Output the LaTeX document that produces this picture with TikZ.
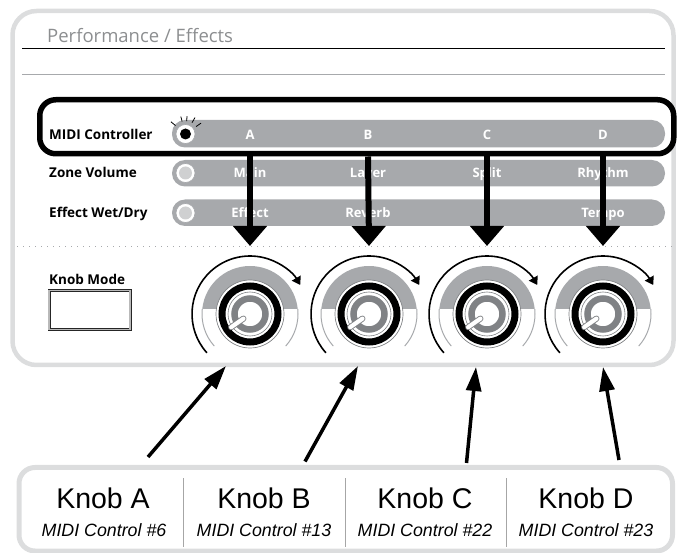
\documentclass[tikz,border=0pt]{standalone}
\usepackage{fontspec}
\setmainfont{Open Sans}
\newfontfamily\knobfont{Liberation Sans}
\usepackage{tikz}
\usetikzlibrary{arrows.meta, positioning}

\definecolor{panelgray}{HTML}{DCDDDE}
\definecolor{bargray}{HTML}{A7A9AC}
\definecolor{ringgray}{HTML}{808285}
\definecolor{titlegray}{HTML}{8C8E90}
\definecolor{dotgray}{HTML}{CFD0D1}

\begin{document}
\begin{tikzpicture}[
    x=1pt, y=-1pt,
    rowlabel/.style={anchor=base west, inner sep=0pt, font=\bfseries\fontsize{13.5}{16}\selectfont},
    barlabel/.style={anchor=base, inner sep=0pt, text=white, font=\bfseries\fontsize{13}{15}\selectfont},
    bar/.style={fill=bargray, rounded corners=13pt},
    radio/.style={circle, draw=bargray, fill=white, line width=0.6pt, minimum size=19pt, inner sep=0pt},
    midibox/.style={draw, line width=5.5pt, rounded corners=16pt, minimum width=634pt, minimum height=54pt, inner sep=0pt},
    modebox/.style={draw=black!85, line width=0.8pt, double=gray!55, double distance=1.4pt, minimum width=81pt, minimum height=39pt, inner sep=0pt},
    bigarrow/.style={line width=6pt, -{Triangle[width=33pt, length=20pt]}},
    knobarrow/.style={line width=3.5pt, -{Triangle[width=15pt, length=24pt]}},
    knobname/.style={anchor=base, inner sep=0pt, font=\knobfont\fontsize{28.5}{32}\selectfont},
    knobcc/.style={anchor=base, inner sep=0pt, font=\knobfont\itshape\fontsize{17.8}{21}\selectfont},
    dial/.pic={
        \fill[bargray] (174:48pt) arc[start angle=174, end angle=6, radius=48pt] -- cycle;
        \draw[bargray, line width=1pt] (174:48pt) arc[start angle=174, end angle=222, radius=48pt];
        \draw[bargray, line width=1pt] (318:48pt) arc[start angle=318, end angle=366, radius=48pt];
        \draw[line width=1.6pt, -{Triangle[width=10pt, length=8pt]}] (222:58pt) arc[start angle=222, end angle=30, radius=58pt];
        \draw[ringgray, line width=0.7pt, fill=white] (0,0) circle[radius=34pt];
        \draw[line width=7pt] (0,0) circle[radius=28pt];
        \draw[ringgray, line width=0.6pt] (0,0) circle[radius=22pt];
        \draw[ringgray, line width=6.5pt] (0,0) circle[radius=15.5pt];
        \draw[ringgray, line width=6pt, line cap=round] (215:8pt) -- (215:23pt);
        \draw[white, line width=4.2pt, line cap=round] (215:8pt) -- (215:23pt);
    }
]
    \useasboundingbox (0,0) rectangle (678,553);

    % panel: Performance / Effects
    \draw[panelgray, line width=4.5pt, rounded corners=24pt] (12.5,11) rectangle (673.5,365);
    \node[anchor=base west, inner sep=0pt, text=titlegray, font=\fontsize{18.5}{22}\selectfont] (title) at (47,42.5) {Performance / Effects};
    \draw[line width=1pt] (22,48.5) -- (665,48.5);
    \draw[bargray, line width=1pt] (22,75) -- (665,75);

    % rows of the selector
    \fill[bar] (172,120) rectangle (665,147.5);
    \fill[bar] (172,160) rectangle (665,186.5);
    \fill[bar] (172,199.5) rectangle (665,226);

    \node[rowlabel] (lblMidi) at (49,139.5) {MIDI Controller};
    \node[rowlabel] (lblZone) at (49,178) {Zone Volume};
    \node[rowlabel] (lblWet) at (49,218) {Effect Wet/Dry};

    \node[radio] (radioMidi) at (185.5,134) {};
    \node[radio] (radioZone) at (185.5,173) {};
    \node[radio] (radioWet) at (185.5,213) {};
    \fill (radioMidi) circle[radius=5.5pt];
    \fill[dotgray] (radioZone) circle[radius=6.5pt];
    \fill[dotgray] (radioWet) circle[radius=6.5pt];
    \draw[line width=0.8pt]
        ([shift={(140:13pt)}]radioMidi.center) -- ([shift={(140:19pt)}]radioMidi.center)
        ([shift={(105:13pt)}]radioMidi.center) -- ([shift={(105:18pt)}]radioMidi.center)
        ([shift={(85:13pt)}]radioMidi.center) -- ([shift={(85:18pt)}]radioMidi.center)
        ([shift={(60:13pt)}]radioMidi.center) -- ([shift={(60:19pt)}]radioMidi.center)
        ([shift={(35:13pt)}]radioMidi.center) -- ([shift={(35:19pt)}]radioMidi.center);

    \node[barlabel] (selA) at (250,139.5) {A};
    \node[barlabel] (selB) at (368,139.5) {B};
    \node[barlabel] (selC) at (487,139.5) {C};
    \node[barlabel] (selD) at (603,139.5) {D};
    \node[barlabel] (zoneA) at (250,178) {Main};
    \node[barlabel] (zoneB) at (368,178) {Layer};
    \node[barlabel] (zoneC) at (487,178) {Split};
    \node[barlabel] (zoneD) at (603,178) {Rhythm};
    \node[barlabel] (wetA) at (250,218) {Effect};
    \node[barlabel] (wetB) at (368,218) {Reverb};
    \node[barlabel] (wetD) at (603,218) {Tempo};

    \node[midibox] (midibox) at (356.75,126.75) {};

    % knobs
    \draw[bargray, line width=1.2pt, dash pattern=on 1.2pt off 4.8pt] (17,246.5) -- (673,246.5);
    \node[rowlabel] (lblMode) at (49,285) {Knob Mode};
    \node[modebox] (modeBtn) at (89.5,310) {};

    \coordinate (dialA) at (250,314);
    \coordinate (dialB) at (369,314);
    \coordinate (dialC) at (487,314);
    \coordinate (dialD) at (603,314);
    \pic at (dialA) {dial};
    \pic at (dialB) {dial};
    \pic at (dialC) {dial};
    \pic at (dialD) {dial};

    \draw[bigarrow] (selA |- midibox.south) -- ([yshift=68pt]dialA);
    \draw[bigarrow] (selB |- midibox.south) -- ([yshift=68pt]dialB);
    \draw[bigarrow] (selC |- midibox.south) -- ([yshift=68pt]dialC);
    \draw[bigarrow] (selD |- midibox.south) -- ([yshift=68pt]dialD);

    % knob assignments
    \draw[panelgray, line width=5pt, rounded corners=16pt] (19,467.5) rectangle (672.5,551);
    \draw[gray!70, line width=0.8pt] (183.5,478) -- (183.5,547);
    \draw[gray!70, line width=0.8pt] (345,478) -- (345,547);
    \draw[gray!70, line width=0.8pt] (506,478) -- (506,547);

    \node[knobname] (knobA) at (103,508) {Knob A};
    \node[knobname] (knobB) at (264,508) {Knob B};
    \node[knobname] (knobC) at (425,508) {Knob C};
    \node[knobname] (knobD) at (586,508) {Knob D};
    \node[knobcc] (ccA) at (104,536) {MIDI Control \#6};
    \node[knobcc] (ccB) at (264,536) {MIDI Control \#13};
    \node[knobcc] (ccC) at (425,536) {MIDI Control \#22};
    \node[knobcc] (ccD) at (586,536) {MIDI Control \#23};

    \coordinate (tailA) at (148,457);
    \coordinate (tailB) at (305,461.5);
    \coordinate (tailC) at (466.5,463);
    \coordinate (tailD) at (619,460);
    \coordinate (tipA) at (226,366);
    \coordinate (tipB) at (358,366);
    \coordinate (tipC) at (476,367);
    \coordinate (tipD) at (603,367);
    \draw[knobarrow] (tailA) -- (tipA);
    \draw[knobarrow] (tailB) -- (tipB);
    \draw[knobarrow] (tailC) -- (tipC);
    \draw[knobarrow] (tailD) -- (tipD);
\end{tikzpicture}
\end{document}
